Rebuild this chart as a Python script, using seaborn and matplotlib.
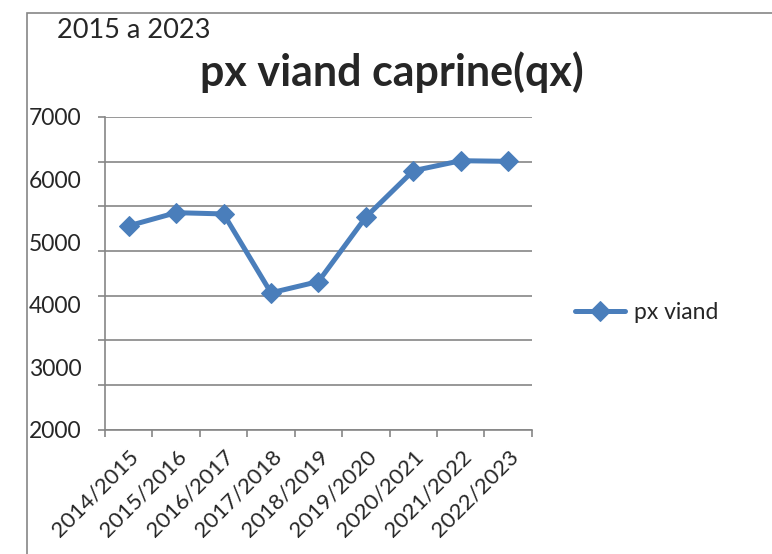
import matplotlib
matplotlib.use("Agg")
import matplotlib.pyplot as plt
import seaborn as sns
import numpy as np
from matplotlib.patches import Rectangle

# Data
campagnes = ["2014/2015", "2015/2016", "2016/2017", "2017/2018", "2018/2019",
             "2019/2020", "2020/2021", "2021/2022", "2022/2023"]
px_viand = [5260, 5470, 5450, 4190, 4370, 5400, 6140, 6300, 6290]
y_labels = [2000, 3000, 4000, 5000, 6000, 7000]

sns.set_style("white")
plt.rcParams['font.family'] = ['Lato', 'DejaVu Sans']

blue = "#4a7ebb"
grey = "#868686"

fig = plt.figure(figsize=(7.72, 5.54), dpi=100)
ax = fig.add_axes([0.136, 0.224, 0.553, 0.565])

# outer chart frame (only top/left visible)
fig.patches.append(Rectangle((0.035, -0.5), 2, 1.4765, transform=fig.transFigure,
                             fill=False, edgecolor=grey, linewidth=1.2))

x = np.arange(len(campagnes))
sns.lineplot(x=x, y=px_viand, ax=ax, color=blue, linewidth=3.6,
             marker="D", markersize=10.5, markeredgecolor=blue,
             label="px viand")

ax.set_xlim(-0.5, len(campagnes) - 0.5)
ax.set_ylim(min(y_labels), max(y_labels))

# gridlines / tick marks: 7 equal bands, labels on their own positions
ax.yaxis.remove_overlapping_locs = False
ax.set_yticks(np.linspace(min(y_labels), max(y_labels), 8))
ax.set_yticklabels([])
ax.set_yticks(y_labels, minor=True)
ax.set_yticklabels([str(v) for v in y_labels], minor=True)
ax.tick_params(axis="y", which="major", length=5, width=1.2, color=grey, direction="out", left=True)
ax.tick_params(axis="y", which="minor", length=0, pad=17, labelsize=16.5)
ax.yaxis.grid(True, which="major", color=grey, linewidth=1.2)

ax.set_xticks(np.arange(-0.5, len(campagnes), 1.0))
ax.set_xticklabels([])
ax.set_xticks(x, minor=True)
ax.set_xticklabels(campagnes, minor=True, rotation=45, ha="right", rotation_mode="anchor")
ax.tick_params(axis="x", which="major", length=5, width=1.2, color=grey, direction="out", bottom=True)
ax.tick_params(axis="x", which="minor", length=0, pad=12, labelsize=16)

for s in ["top", "right"]:
    ax.spines[s].set_visible(False)
for s in ["left", "bottom"]:
    ax.spines[s].set_color(grey)
    ax.spines[s].set_linewidth(1.2)

fig.text(0.074, 0.945, "2015 a 2023", fontsize=19.5, va="center", ha="left")
fig.text(0.507, 0.870, "px viand caprine(qx)", fontsize=31, fontweight="bold",
         va="center", ha="center")

ax.legend(loc="center left", bbox_to_anchor=(1.1, 0.374), frameon=False,
          fontsize=16.5, handlelength=2.2, handletextpad=0.4, borderaxespad=0,
          borderpad=0)

fig.savefig("out.png", dpi=100)
